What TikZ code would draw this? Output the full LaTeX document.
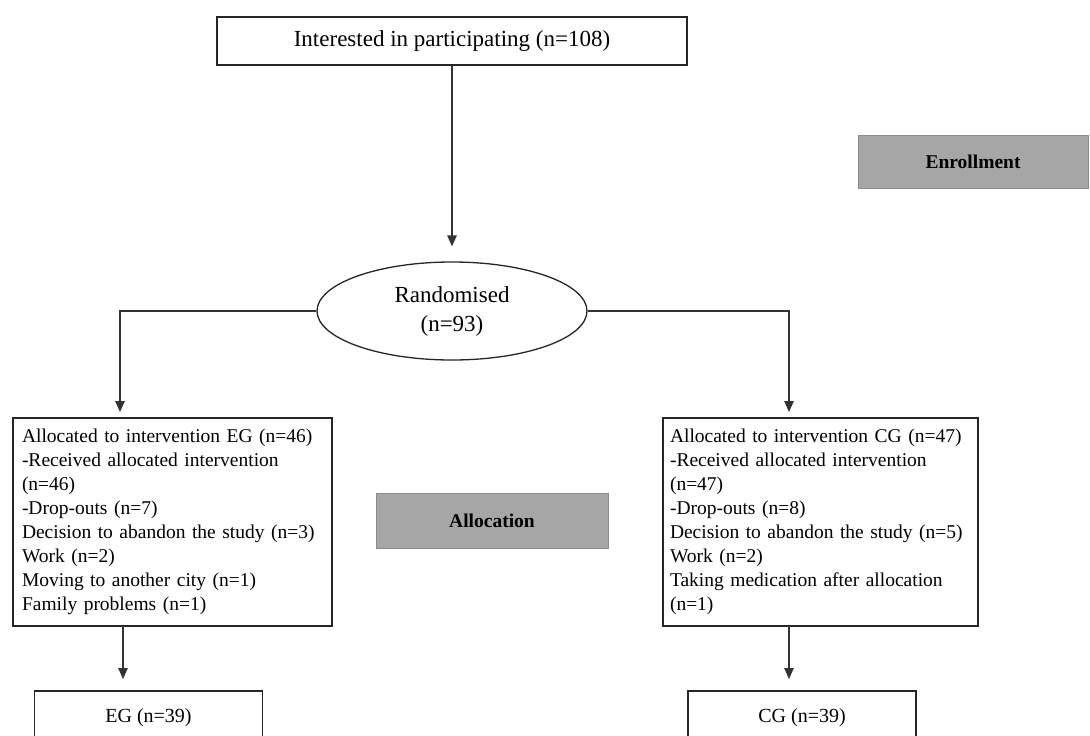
\documentclass[tikz,border=0pt]{standalone}
\usepackage{fontspec}
\setmainfont{Liberation Serif}
\usetikzlibrary{arrows.meta,shapes.geometric,calc}

\begin{document}
\begin{tikzpicture}[x=1pt,y=-1pt,
  link/.style={draw=black!80, line width=1.3pt},
  arr/.style={link, -{Triangle[length=11pt,width=9.5pt]}},
  box/.style={draw=black!85, line width=1.3pt, fill=white, inner sep=0pt},
  bigtext/.style={font=\fontsize{23}{29}\selectfont},
  listbox/.style={box, minimum height=208pt, text width=301pt, align=left,
    font=\fontsize{19.5}{24}\selectfont},
  endbox/.style={box, minimum width=228pt, minimum height=54pt,
    font=\fontsize{20}{24}\selectfont},
  stage/.style={draw=black!45, line width=1pt, fill=black!35, inner sep=0pt,
    font=\fontsize{19.5}{23}\selectfont\bfseries}
]
\useasboundingbox (0,0) rectangle (1090,736);
\clip (0,0) rectangle (1090,736);

% enrollment
\node[box, bigtext, minimum width=470pt, minimum height=48pt] (interest) at (452,41)
  {Interested in participating (n=108)};
\node[stage, minimum width=230pt, minimum height=53pt] (enrol) at (973,161.5) {Enrollment};

% randomisation
\node[draw=black!85, line width=1.3pt, ellipse, bigtext, align=center, inner sep=0pt,
  minimum width=270pt, minimum height=98pt] (rand) at (452,311)
  {Randomised\\(n=93)};

% allocation
\node[listbox, minimum width=319pt] (eg) at (172.5,522)
  {Allocated to intervention EG (n=46)\\
   -Received allocated intervention\\
   (n=46)\\
   -Drop-outs (n=7)\\
   Decision to abandon the study (n=3)\\
   Work (n=2)\\
   Moving to another city (n=1)\\
   Family problems (n=1)};
\node[listbox, minimum width=315pt] (cg) at (820.5,522)
  {Allocated to intervention CG (n=47)\\
   -Received allocated intervention\\
   (n=47)\\
   -Drop-outs (n=8)\\
   Decision to abandon the study (n=5)\\
   Work (n=2)\\
   Taking medication after allocation\\
   (n=1)};
\node[stage, minimum width=232pt, minimum height=55pt] (alloc) at (492,520.5) {Allocation};

% final groups
\node[endbox] (egend) at (148.5,718) {EG (n=39)};
\node[endbox] (cgend) at (802,718) {CG (n=39)};

% branch entry points
\coordinate (egin) at (120,418);
\coordinate (cgin) at (789,418);
\coordinate (egout) at (123,626);
\coordinate (cgout) at (789,626);
\coordinate (egendin) at (123,691);
\coordinate (cgendin) at (789,691);

% connectors
\draw[arr, shorten >=15pt] (interest.south) -- (rand.north);
\draw[arr, shorten >=6pt] (rand.west) -| (egin);
\draw[arr, shorten >=6pt] (rand.east) -| (cgin);
\draw[arr, shorten >=12pt] (egout) -- (egendin);
\draw[arr, shorten >=12pt] (cgout) -- (cgendin);
\end{tikzpicture}
\end{document}
